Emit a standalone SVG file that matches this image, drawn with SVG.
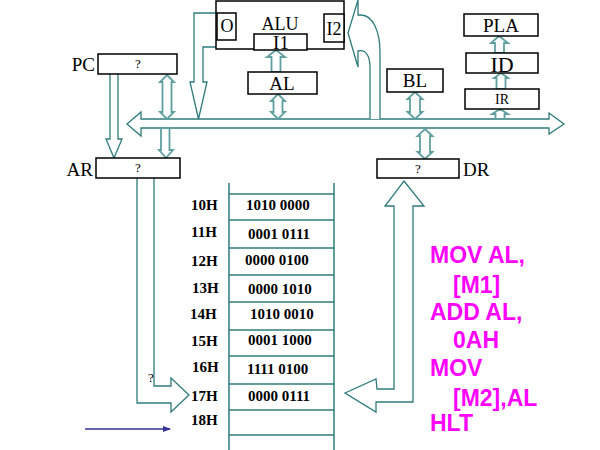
<svg xmlns="http://www.w3.org/2000/svg" width="600" height="450" viewBox="0 0 600 450">
<style>
.box{fill:#fff;stroke:#000;stroke-width:1.5}
.lbl{font-family:"Liberation Serif",serif;fill:#000;text-anchor:middle}
.arr{fill:#fff;stroke:#2e7b7b;stroke-width:1.3;stroke-linejoin:miter}
.darr{fill:#fff;stroke:#5f9f9f;stroke-width:1.8}
.ln{fill:none;stroke:#2e7b7b;stroke-width:1.5}
.mem{font-family:"Liberation Serif",serif;font-weight:bold;font-size:15px;fill:#000}
.asm{font-family:"Liberation Sans",sans-serif;font-weight:bold;font-size:23px;fill:#ff00ff}
</style>
<defs>
<marker id="bh" markerWidth="8" markerHeight="6" refX="7" refY="3" orient="auto" markerUnits="userSpaceOnUse">
<path d="M0,0 L8,3 L0,6 Z" fill="#333399"/>
</marker>
</defs>

<g id="connectors">
<!-- bus -->
<path class="arr" d="M141,119 L549,119 L549,113 L564,124 L549,134 L549,128 L141,128 L141,136 L127,124 L141,112 Z"/>
<!-- ALU output to bus -->
<path class="arr" d="M216,13 L194,13 L194,82 L190,82 L198.5,119 L207,82 L203,82 L203,47 L216,47"/>
<!-- bus to I2 curved -->
<path class="arr" d="M380,119 L380,52 C380,32 373,15 361,15 L358,15 L358,0 L348,33 L358,67 L358,51 C366,49 370,56 370,68 L370,119"/>
<!-- AL to I1 -->
<path class="darr" d="M276,50 L285,57 L280.5,57 L280.5,72 L271.5,72 L271.5,57 L267,57 Z"/>
<!-- AL <-> bus -->
<path class="darr" d="M278,94 L285,101 L282.5,101 L282.5,112 L285,112 L278,119 L271,112 L273.5,112 L273.5,101 L271,101 Z"/>
<!-- BL <-> bus -->
<path class="darr" d="M415,92 L422.5,99 L420,99 L420,112 L422.5,112 L415,119 L407.5,112 L410,112 L410,99 L407.5,99 Z"/>
<!-- bus <-> DR -->
<path class="darr" d="M425,129 L432.5,136 L430,136 L430,152 L432.5,152 L425,159 L417.5,152 L420,152 L420,136 L417.5,136 Z"/>
<!-- bus -> IR -->
<path class="darr" d="M500,109 L508,114 L504.5,114 L504.5,119 L495.5,119 L495.5,114 L492,114 Z"/>
<!-- IR -> ID -->
<path class="darr" d="M501,73 L508,78 L505.5,78 L505.5,89 L496.5,89 L496.5,78 L494,78 Z"/>
<!-- ID -> PLA -->
<path class="darr" d="M499,36 L508,43 L504,43 L504,53 L495,53 L495,43 L491,43 Z"/>
<!-- PC <-> bus -->
<path class="darr" d="M167,75 L174,82 L171.5,82 L171.5,112 L174,112 L167,119 L160,112 L162.5,112 L162.5,82 L160,82 Z"/>
<!-- bus -> AR -->
<path class="darr" d="M161,128 L169.5,128 L169.5,150 L173,150 L166,158 L159,150 L161,150 Z"/>
<!-- PC -> AR -->
<path class="arr" d="M110,74 L110,139 L106,139 L114,158 L122,139 L118,139 L118,74"/>
<!-- AR -> 17H -->
<path class="arr" d="M137,178 L137,403 L171,403 L171,412 L189,395 L171,378 L171,386 L154,386 L154,178"/>
<!-- DR -> memory -->
<path class="arr" d="M404,181 L424,206 L413,206 L413,402 L376,402 L376,412 L345,393 L376,379 L377,389 L394,389 L394,206 L385,206 Z"/>
<!-- blue arrow -->
<line x1="85" y1="429" x2="170" y2="429" stroke="#333399" stroke-width="1.5" marker-end="url(#bh)"/>
</g>

<g id="ALU">
<rect class="box" x="216" y="1" width="128" height="48"/>
<text class="lbl" x="280" y="30" font-size="18">ALU</text>
</g>
<g id="O">
<rect class="box" x="217" y="13" width="19" height="27"/>
<text class="lbl" x="227" y="32" font-size="18">O</text>
</g>
<g id="I2">
<rect class="box" x="324" y="14" width="20" height="28"/>
<text class="lbl" x="334" y="35" font-size="18">I2</text>
</g>
<g id="I1">
<rect class="box" x="254" y="34" width="53" height="16"/>
<text class="lbl" x="281" y="49" font-size="19">I1</text>
</g>
<g id="AL">
<rect class="box" x="248" y="72" width="69" height="22"/>
<text class="lbl" x="282" y="90" font-size="19">AL</text>
</g>
<g id="BL">
<rect class="box" x="387" y="69" width="56" height="23"/>
<text class="lbl" x="415" y="87" font-size="19">BL</text>
</g>
<g id="PLA">
<rect class="box" x="464" y="14" width="74" height="22"/>
<text class="lbl" x="501" y="32" font-size="19">PLA</text>
</g>
<g id="ID">
<rect class="box" x="466" y="53" width="72" height="20"/>
<text class="lbl" x="502" y="72" font-size="22">ID</text>
</g>
<g id="IR">
<rect class="box" x="465" y="89" width="74" height="20"/>
<text class="lbl" x="502" y="104" font-size="14">IR</text>
</g>
<g id="PC">
<rect class="box" x="98" y="54" width="79" height="20"/>
<text class="lbl" x="138" y="68" font-size="13">?</text>
<text class="lbl" x="95" y="71" font-size="19" style="text-anchor:end">PC</text>
</g>
<g id="AR">
<rect class="box" x="96" y="158" width="84" height="20"/>
<text class="lbl" x="138" y="172" font-size="13">?</text>
<text class="lbl" x="93" y="176" font-size="19" style="text-anchor:end">AR</text>
</g>
<g id="DR">
<rect class="box" x="377" y="159" width="82" height="19"/>
<text class="lbl" x="418" y="173" font-size="13">?</text>
<text class="lbl" x="463" y="176" font-size="19" style="text-anchor:start">DR</text>
</g>
<text class="lbl" x="151" y="382" font-size="13">?</text>

<g id="memory">
<line class="ln" x1="229" y1="183" x2="229" y2="450"/>
<line class="ln" x1="334" y1="183" x2="334" y2="450"/>
<g class="ln">
<line x1="229" y1="194" x2="334" y2="194"/>
<line x1="229" y1="220" x2="334" y2="220"/>
<line x1="229" y1="248" x2="334" y2="248"/>
<line x1="229" y1="275" x2="334" y2="275"/>
<line x1="229" y1="302" x2="334" y2="302"/>
<line x1="229" y1="330" x2="334" y2="330"/>
<line x1="229" y1="356" x2="334" y2="356"/>
<line x1="229" y1="384" x2="334" y2="384"/>
<line x1="229" y1="410" x2="334" y2="410"/>
<line x1="229" y1="435" x2="334" y2="435"/>
</g>
<text class="mem" x="191" y="210">10H</text>
<text class="mem" x="191" y="237">11H</text>
<text class="mem" x="191" y="266">12H</text>
<text class="mem" x="192" y="293">13H</text>
<text class="mem" x="190" y="319">14H</text>
<text class="mem" x="191" y="346">15H</text>
<text class="mem" x="192" y="372">16H</text>
<text class="mem" x="191" y="401">17H</text>
<text class="mem" x="191" y="425">18H</text>
<text class="mem" x="246" y="210">1010 0000</text>
<text class="mem" x="248" y="239">0001 0111</text>
<text class="mem" x="245" y="265">0000 0100</text>
<text class="mem" x="248" y="294">0000 1010</text>
<text class="mem" x="250" y="319">1010 0010</text>
<text class="mem" x="248" y="345">0001 1000</text>
<text class="mem" x="247" y="374">1111 0100</text>
<text class="mem" x="248" y="401">0000 0111</text>
</g>

<g id="program">
<text class="asm" x="430" y="263">MOV AL,</text>
<text class="asm" x="453" y="293">[M1]</text>
<text class="asm" x="430" y="320">ADD AL,</text>
<text class="asm" x="453" y="348">0AH</text>
<text class="asm" x="430" y="376">MOV</text>
<text class="asm" x="453" y="406">[M2],AL</text>
<text class="asm" x="430" y="431">HLT</text>
</g>
</svg>
